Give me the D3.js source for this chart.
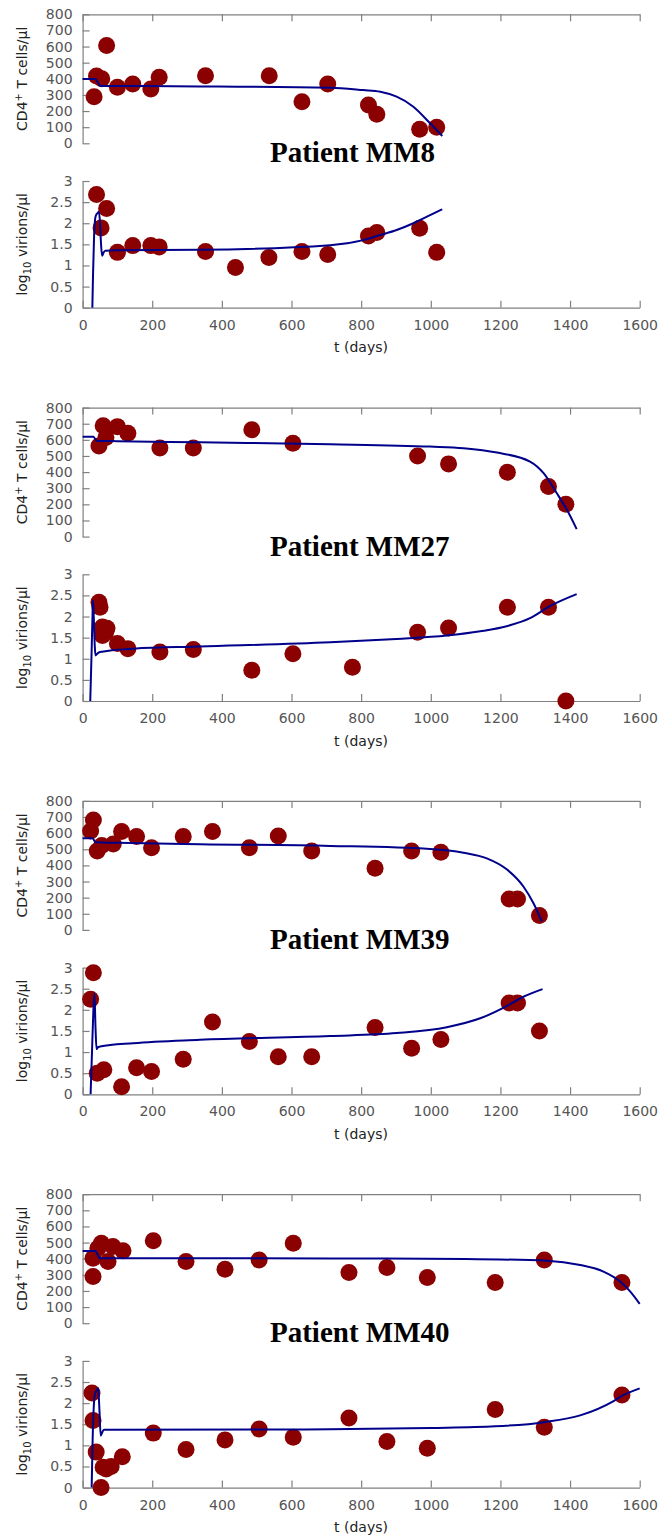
<!DOCTYPE html>
<html>
<head>
    <title>Patients MM8 / MM27 / MM39 / MM40</title>
    <script src="https://d3js.org/d3.v7.min.js"></script>
</head>
<body style="background-color: white; margin: 0;">
<div id="chart"></div>
<script>

// tick values
const xTicks = [0, 200, 400, 600, 800, 1000, 1200, 1400, 1600];
const cd4Ticks = [0, 100, 200, 300, 400, 500, 600, 700, 800];
const virTicks = [0, 0.5, 1, 1.5, 2, 2.5, 3];

const patients = ["MM8", "MM27", "MM39", "MM40"];

// measured CD4+ counts [t, cells/ul]
const mm8Cd4 = [[33,289],[40,417],[55,400],[69,607],[100,347],[144,368],[196,337],[220,409],[353,419],
    [536,419],[630,258],[704,368],[821,237],[845,180],[968,87],[1017,99]];
const mm27Cd4 = [[47,562],[59,688],[67,614],[100,682],[130,641],[222,550],[318,550],[486,662],[604,579],
    [962,500],[1051,451],[1220,399],[1338,310],[1388,201]];
const mm39Cd4 = [[23,614],[31,682],[42,490],[55,523],[88,533],[112,610],[155,579],[198,510],[289,579],
    [373,610],[479,510],[562,583],[658,490],[840,382],[945,490],[1029,481],[1225,192],[1249,192],[1312,89]];
const mm40Cd4 = [[30,289],[30,403],[44,465],[54,496],[73,382],[87,475],[116,450],[203,512],[297,382],
    [409,335],[507,392],[605,496],[765,314],[874,345],[990,283],[1185,252],[1326,392],[1549,252]];

// measured viral load [t, log10 virions/ul]
const mm8Vir = [[40,2.68],[53,1.89],[69,2.35],[100,1.31],[144,1.47],[196,1.47],[220,1.44],[353,1.33],
    [439,0.95],[535,1.19],[630,1.33],[704,1.26],[821,1.70],[845,1.78],[968,1.88],[1017,1.31]];
const mm27Vir = [[47,2.34],[50,2.22],[57,1.75],[70,1.72],[57,1.55],[66,1.62],[100,1.36],[130,1.24],
    [222,1.16],[318,1.22],[486,0.73],[604,1.12],[775,0.80],[962,1.63],[1051,1.73],[1220,2.22],[1338,2.22],[1388,0.0]];
const mm39Vir = [[23,2.25],[31,2.88],[42,0.50],[61,0.58],[112,0.18],[155,0.63],[198,0.54],[289,0.83],
    [373,1.71],[479,1.25],[562,0.89],[658,0.89],[840,1.58],[945,1.09],[1029,1.30],[1225,2.16],[1249,2.16],[1312,1.50]];
const mm40Vir = [[27,2.24],[30,1.59],[39,0.84],[53,0.0],[59,0.48],[68,0.44],[82,0.50],[114,0.73],[203,1.29],
    [297,0.90],[409,1.13],[507,1.39],[605,1.19],[765,1.65],[874,1.09],[990,0.93],[1185,1.85],[1326,1.43],[1549,2.19]];

// model curves
const mm8Cd4Fit = [[0,399],[36,399],[52,355],[100,355],[337,353],[711,345],[806,330],[855,320],[902,289],
    [950,227],[998,124],[1033,45]];
const mm27Cd4Fit = [[0,620],[31,620],[40,595],[100,592],[337,585],[711,573],[998,558],[1094,548],[1190,521],
    [1285,465],[1324,393],[1362,269],[1391,166],[1419,46]];
const mm39Cd4Fit = [[0,568],[29,568],[37,543],[100,540],[337,531],[711,521],[998,502],[1094,479],[1161,444],
    [1218,376],[1266,269],[1295,165],[1319,52]];
const mm40Cd4Fit = [[0,448],[36,448],[50,403],[100,403],[711,402],[1100,398],[1334,388],[1429,361],[1496,320],
    [1544,258],[1573,196],[1600,120]];

const mm8VirFit = [[28,0],[30,0.8],[33,1.7],[36,2.1],[39,2.2],[43,2.24],[47,2.27],[50,2.0],[53,1.5],[56,1.23],
    [60,1.3],[65,1.35],[100,1.36],[337,1.37],[711,1.48],[806,1.60],[855,1.72],[902,1.84],[950,2.0],[998,2.19],[1033,2.33]];
const mm27VirFit = [[22,0],[26,1.2],[29,2.2],[30,2.38],[32,2.0],[35,1.3],[37,1.08],[42,1.12],[50,1.16],
    [146,1.24],[337,1.29],[711,1.39],[902,1.47],[1046,1.55],[1142,1.65],[1218,1.77],[1285,1.96],[1343,2.25],[1419,2.53]];
const mm39VirFit = [[23,0],[27,1.0],[31,2.0],[34,2.39],[37,1.6],[40,1.07],[45,1.12],[50,1.13],[146,1.21],
    [337,1.29],[711,1.38],[902,1.45],[1046,1.59],[1142,1.80],[1218,2.09],[1266,2.31],[1321,2.49]];
const mm40VirFit = [[26,0],[29,1.2],[32,1.9],[36,2.23],[40,2.3],[45,2.35],[48,1.9],[52,1.23],[56,1.3],
    [61,1.37],[711,1.38],[1000,1.41],[1185,1.45],[1326,1.55],[1429,1.71],[1525,2.05],[1549,2.17],[1600,2.35]];

const cd4Data = [mm8Cd4, mm27Cd4, mm39Cd4, mm40Cd4];
const virData = [mm8Vir, mm27Vir, mm39Vir, mm40Vir];
const cd4Fits = [mm8Cd4Fit, mm27Cd4Fit, mm39Cd4Fit, mm40Cd4Fit];
const virFits = [mm8VirFit, mm27VirFit, mm39VirFit, mm40VirFit];

var svg = d3.select("#chart")
            .append("svg")
            .attr("width", 661)
            .attr("height", 1539);

var x = d3.scaleLinear().domain([0, 1600]).range([82.6, 639.7]);

var axisColor = "#808080";

function styleAxis(g) {
    g.attr("font-family", "DejaVu Sans").attr("font-size", 14);
    g.select(".domain").attr("stroke", axisColor).attr("stroke-width", 1.2);
    g.selectAll(".tick line").attr("stroke", axisColor).attr("stroke-width", 1.2);
    g.selectAll(".tick text").attr("fill", "#555");
}

patients.forEach(function(name, i) {
    var top = 14.3 + i * 393.3;
    var g = svg.append("g");

    var yC = d3.scaleLinear().domain([0, 800]).range([top + 129, top]);
    var yV = d3.scaleLinear().domain([0, 3]).range([top + 293.4, top + 166.7]);

    // upper panel: top axis (no labels) + left axis
    g.append("g")
     .attr("transform", `translate(0,${top})`)
     .call(d3.axisTop(x).tickValues(xTicks).tickSize(-7).tickSizeOuter(0).tickFormat(""))
     .call(styleAxis);

    g.append("g")
     .attr("transform", "translate(82.6,0)")
     .call(d3.axisLeft(yC).tickValues(cd4Ticks).tickSize(-7).tickSizeOuter(0).tickPadding(10)
            .tickFormat(d3.format("d")))
     .call(styleAxis);

    // lower panel: left axis + bottom axis
    g.append("g")
     .attr("transform", "translate(82.6,0)")
     .call(d3.axisLeft(yV).tickValues(virTicks).tickSize(-7).tickSizeOuter(0).tickPadding(10)
            .tickFormat(d => String(d)))
     .call(styleAxis);

    g.append("g")
     .attr("transform", `translate(0,${top + 293.4})`)
     .call(d3.axisBottom(x).tickValues(xTicks).tickSize(-7).tickSizeOuter(0).tickPadding(12)
            .tickFormat(d3.format("d")))
     .call(styleAxis);

    // points
    g.append("g").selectAll("circle")
     .data(cd4Data[i]).join("circle")
     .attr("cx", d => x(d[0])).attr("cy", d => yC(d[1]))
     .attr("r", 8.5).attr("fill", "#8b0000");

    g.append("g").selectAll("circle")
     .data(virData[i]).join("circle")
     .attr("cx", d => x(d[0])).attr("cy", d => yV(d[1]))
     .attr("r", 8.5).attr("fill", "#8b0000");

    // model curves on top
    var lineC = d3.line().x(d => x(d[0])).y(d => yC(d[1])).curve(d3.curveMonotoneX);
    var lineV = d3.line().x(d => x(d[0])).y(d => yV(d[1])).curve(d3.curveMonotoneX);

    g.append("path").datum(cd4Fits[i])
     .attr("d", lineC).attr("fill", "none")
     .attr("stroke", "#00008b").attr("stroke-width", 2);

    g.append("path").datum(virFits[i])
     .attr("d", lineV).attr("fill", "none")
     .attr("stroke", "#00008b").attr("stroke-width", 2);

    // title
    g.append("text")
     .attr("x", 270).attr("y", top + 148)
     .attr("font-family", "Liberation Serif").attr("font-weight", "bold")
     .attr("font-size", 29).attr("fill", "#000")
     .text("Patient " + name);

    // y labels
    var lc = g.append("text")
     .attr("transform", `translate(27,${top + 64.5}) rotate(-90)`)
     .attr("text-anchor", "middle")
     .attr("font-family", "DejaVu Sans").attr("font-size", 14).attr("fill", "#222");
    lc.append("tspan").text("CD4");
    lc.append("tspan").attr("font-size", 10).attr("dy", -5).text("+");
    lc.append("tspan").attr("dy", 5).text(" T cells/\u03bcl");

    var lv = g.append("text")
     .attr("transform", `translate(27,${top + 230}) rotate(-90)`)
     .attr("text-anchor", "middle")
     .attr("font-family", "DejaVu Sans").attr("font-size", 14).attr("fill", "#222");
    lv.append("tspan").text("log");
    lv.append("tspan").attr("font-size", 10).attr("dy", 4).text("10");
    lv.append("tspan").attr("dy", -4).text(" virions/\u03bcl");

    // x label
    g.append("text")
     .attr("x", 361).attr("y", top + 338)
     .attr("text-anchor", "middle")
     .attr("font-family", "DejaVu Sans").attr("font-size", 14).attr("fill", "#222")
     .text("t (days)");
});

</script>
</body>
</html>
